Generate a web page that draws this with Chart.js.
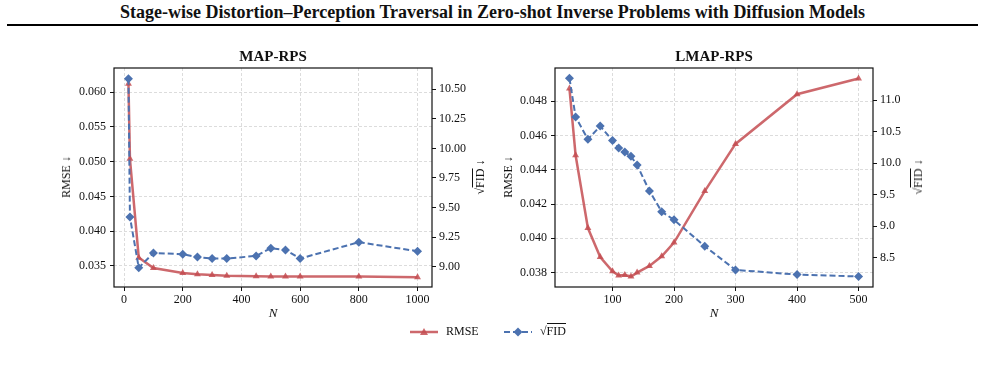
<!DOCTYPE html>
<html>
<head>
<meta charset="utf-8">
<script src="https://cdn.jsdelivr.net/npm/chart.js@4.4.0/dist/chart.umd.min.js"></script>
<style>
  body { margin: 0; width: 985px; height: 367px; position: relative; background: #fff;
         font-family: 'Liberation Serif', 'Times New Roman', serif; color: #111; overflow: hidden; }
  .abs { position: absolute; }
  #title { left: 0; width: 985px; top: 2px; text-align: center; font-weight: bold; font-size: 18px; line-height: 21px; }
  #rule { left: 7px; width: 971px; top: 24px; height: 2px; background: #000; }
  .ptitle { font-weight: bold; font-size: 15px; line-height: 17px; transform: translateX(-50%); white-space: nowrap; }
  .xlab { font-style: italic; font-size: 13px; line-height: 15px; transform: translateX(-50%); }
  .ylab { font-size: 12px; line-height: 14px; white-space: nowrap; transform: translate(-50%, -50%) rotate(-90deg); }
  .ov { border-top: 1px solid #111; }
  .leg { font-size: 12px; line-height: 14px; }
</style>
</head>
<body>
<div id="title" class="abs">Stage-wise Distortion–Perception Traversal in Zero-shot Inverse Problems with Diffusion Models</div>
<div id="rule" class="abs"></div>

<canvas id="mapChart" class="abs" width="492" height="320" style="left:0;top:0"></canvas>
<canvas id="lmapChart" class="abs" width="493" height="320" style="left:492px;top:0"></canvas>

<div class="abs ptitle" style="left:273px;top:48px">MAP-RPS</div>
<div class="abs ptitle" style="left:714px;top:48px">LMAP-RPS</div>
<div class="abs xlab" style="left:273px;top:305px">N</div>
<div class="abs xlab" style="left:714px;top:305px">N</div>
<div class="abs ylab" style="left:66px;top:177px">RMSE ↓</div>
<div class="abs ylab" style="left:480px;top:177px">√<span class="ov">FID</span> ↓</div>
<div class="abs ylab" style="left:508px;top:177px">RMSE ↓</div>
<div class="abs ylab" style="left:918px;top:177px">√<span class="ov">FID</span> ↓</div>

<svg class="abs" style="left:408px;top:326px" width="32" height="12">
  <line x1="2" y1="6" x2="30" y2="6" stroke="rgba(196,78,82,0.85)" stroke-width="2.5"/>
  <polygon points="16,2 20,9 12,9" fill="rgba(196,78,82,0.85)"/>
</svg>
<div class="abs leg" style="left:446px;top:324px">RMSE</div>
<svg class="abs" style="left:502px;top:326px" width="32" height="12">
  <line x1="2" y1="6" x2="30" y2="6" stroke="#4c72b0" stroke-width="2" stroke-dasharray="6 3"/>
  <polygon points="16,1.5 20.5,6 16,10.5 11.5,6" fill="#4c72b0"/>
</svg>
<div class="abs leg" style="left:540px;top:324px">√<span class="ov">FID</span></div>

<script>
// MAP-RPS
const mapN = [15, 20, 50, 100, 200, 250, 300, 350, 450, 500, 550, 600, 800, 1000];
const mapRmse = [0.0612, 0.0504, 0.0362, 0.0347, 0.0340, 0.0338, 0.0337, 0.0336, 0.03352, 0.0335, 0.0335, 0.0335, 0.03348, 0.03338];
const mapFid = [10.59, 9.42, 8.99, 9.115, 9.104, 9.08, 9.068, 9.068, 9.09, 9.155, 9.14, 9.068, 9.206, 9.13];
const mapXTicks = [0, 200, 400, 600, 800, 1000];
const mapRmseTicks = [0.035, 0.040, 0.045, 0.050, 0.055, 0.060];
const mapFidTicks = [9.00, 9.25, 9.50, 9.75, 10.00, 10.25, 10.50];

// LMAP-RPS
const lmapN = [30, 40, 60, 80, 100, 110, 120, 130, 140, 160, 180, 200, 250, 300, 400, 500];
const lmapRmse = [0.04874, 0.04485, 0.0406, 0.03891, 0.03808, 0.03783, 0.03786, 0.03777, 0.0380, 0.03839, 0.03895, 0.03975, 0.04276, 0.04551, 0.04841, 0.04933];
const lmapFid = [11.35, 10.735, 10.38, 10.59, 10.36, 10.24, 10.18, 10.11, 9.97, 9.56, 9.23, 9.10, 8.68, 8.305, 8.23, 8.20];
const lmapXTicks = [100, 200, 300, 400, 500];
const lmapRmseTicks = [0.038, 0.040, 0.042, 0.044, 0.046, 0.048];
const lmapFidTicks = [8.5, 9.0, 9.5, 10.0, 10.5, 11.0];

const red = 'rgba(196, 78, 82, 0.85)';
const blue = '#4c72b0';
const tickFont = { family: "'Liberation Serif', 'Times New Roman', serif", size: 12 };

// black box round the plot area
const frame = {
    id: 'frame',
    afterDatasetsDraw(chart) {
        const a = chart.chartArea;
        const ctx = chart.ctx;
        ctx.save();
        ctx.strokeStyle = '#111';
        ctx.lineWidth = 1.2;
        ctx.strokeRect(a.left, a.top, a.right - a.left, a.bottom - a.top);
        ctx.restore();
    }
};

function toPoints(xs, ys) {
    return xs.map((x, i) => ({ x: x, y: ys[i] }));
}

function makeChart(id, o) {
    const ctx = document.getElementById(id).getContext('2d');
    return new Chart(ctx, {
        type: 'line',
        data: {
            datasets: [
                {
                    label: 'RMSE',
                    data: toPoints(o.n, o.rmse),
                    yAxisID: 'y',
                    borderColor: red,
                    backgroundColor: red,
                    borderWidth: 2.5,
                    pointStyle: 'triangle',
                    pointRadius: 4,
                    pointBorderWidth: 0,
                    tension: 0,
                    order: 2
                },
                {
                    label: 'sqrt FID',
                    data: toPoints(o.n, o.fid),
                    yAxisID: 'y1',
                    borderColor: blue,
                    backgroundColor: blue,
                    borderWidth: 2,
                    borderDash: [6, 3],
                    pointStyle: 'rectRot',
                    pointRadius: 4.5,
                    pointBorderWidth: 0,
                    tension: 0,
                    order: 1
                }
            ]
        },
        options: {
            responsive: false,
            animation: false,
            devicePixelRatio: 1,
            layout: { padding: { left: 0, right: 0, top: 68, bottom: 0 } },
            plugins: { legend: { display: false }, tooltip: { enabled: false } },
            scales: {
                x: {
                    type: 'linear',
                    min: o.xMin,
                    max: o.xMax,
                    afterBuildTicks: s => { s.ticks = o.xTicks.map(v => ({ value: v })); },
                    afterFit: s => { s.height = 33; },
                    ticks: { font: tickFont, color: '#111', padding: 2, maxRotation: 0, callback: v => String(v) },
                    grid: { color: '#dcdcdc', tickColor: '#111', tickLength: 4, tickBorderDash: [] },
                    border: { display: false, dash: [3, 2] }
                },
                y: {
                    position: 'left',
                    min: o.yMin,
                    max: o.yMax,
                    afterBuildTicks: s => { s.ticks = o.yTicks.map(v => ({ value: v })); },
                    afterFit: s => { s.width = o.leftW; },
                    ticks: { font: tickFont, color: '#111', padding: 4, callback: v => v.toFixed(3) },
                    grid: { color: '#dcdcdc', tickColor: '#111', tickLength: 4, tickBorderDash: [] },
                    border: { display: false, dash: [3, 2] }
                },
                y1: {
                    position: 'right',
                    min: o.y1Min,
                    max: o.y1Max,
                    afterBuildTicks: s => { s.ticks = o.y1Ticks.map(v => ({ value: v })); },
                    afterFit: s => { s.width = o.rightW; },
                    ticks: { font: tickFont, color: '#111', padding: 3, callback: v => v.toFixed(o.y1Dec) },
                    grid: { drawOnChartArea: false, tickColor: '#111', tickLength: 4 },
                    border: { display: false }
                }
            }
        },
        plugins: [frame]
    });
}

makeChart('mapChart', {
    n: mapN, rmse: mapRmse, fid: mapFid,
    xMin: -34.3, xMax: 1049.3, xTicks: mapXTicks,
    yMin: 0.03198, yMax: 0.06345, yTicks: mapRmseTicks,
    y1Min: 8.827, y1Max: 10.68, y1Ticks: mapFidTicks, y1Dec: 2,
    leftW: 114, rightW: 60
});

makeChart('lmapChart', {
    n: lmapN, rmse: lmapRmse, fid: lmapFid,
    xMin: 6.5, xMax: 523.5, xTicks: lmapXTicks,
    yMin: 0.03716, yMax: 0.04994, yTicks: lmapRmseTicks,
    y1Min: 8.033, y1Max: 11.513, y1Ticks: lmapFidTicks, y1Dec: 1,
    leftW: 63, rightW: 112
});
</script>
</body>
</html>
